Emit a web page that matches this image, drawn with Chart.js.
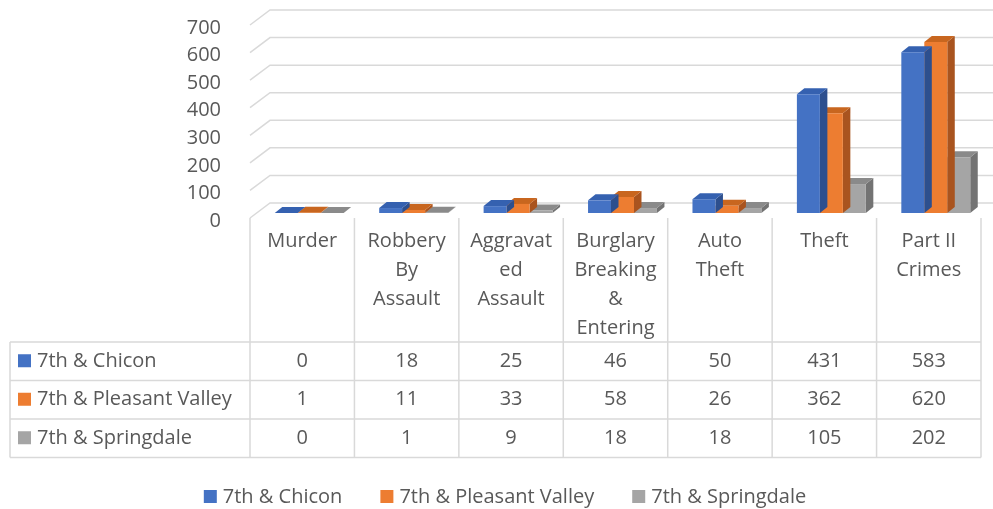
<!DOCTYPE html>
<html>
<head>
<meta charset="utf-8">
<script src="https://cdn.jsdelivr.net/npm/chart.js@4.4.0/dist/chart.umd.min.js"></script>
<style>
    html, body { margin: 0; padding: 0; background: #fff; }
</style>
</head>
<body>
<canvas id="myChart" width="993" height="509"></canvas>
<script>
// categories (already wrapped the way the table header shows them)
const categories = [
    ['Murder'],
    ['Robbery', 'By', 'Assault'],
    ['Aggravat', 'ed', 'Assault'],
    ['Burglary', 'Breaking', '&', 'Entering'],
    ['Auto', 'Theft'],
    ['Theft'],
    ['Part II', 'Crimes']
];
const seriesNames = ['7th & Chicon', '7th & Pleasant Valley', '7th & Springdale'];
const chiconValues = [0, 18, 25, 46, 50, 431, 583];
const pleasantValleyValues = [1, 11, 33, 58, 26, 362, 620];
const springdaleValues = [0, 1, 9, 18, 18, 105, 202];
const yTickValues = [0, 100, 200, 300, 400, 500, 600, 700];

const frontColors = ['#4472C4', '#ED7D31', '#A5A5A5'];
const sideColors = ['#2D4F8E', '#A9541F', '#737373'];
const topColors = ['#3561B0', '#C8661F', '#8A8A8A'];

const FONT = '"Open Sans", "Noto Sans", sans-serif';
const TEXT_COLOR = '#595959';
const LINE_COLOR = '#d9d9d9';

// 3d look: wall depth and bar depth
const wallDx = 20, wallDy = -15;
const barShiftX = 7, barShiftY = -5;
const barDx = 7.5, barDy = -6;

function drawWalls(chart) {
    const ctx = chart.ctx;
    const yScale = chart.scales.y;
    const area = chart.chartArea;
    ctx.save();
    ctx.strokeStyle = LINE_COLOR;
    ctx.lineWidth = 1.5;
    yTickValues.forEach(function (v) {
        const y = yScale.getPixelForValue(v);
        ctx.beginPath();
        ctx.moveTo(area.left, y);
        ctx.lineTo(area.left + wallDx, y + wallDy);
        ctx.lineTo(chart.width + 5, y + wallDy);
        ctx.stroke();
    });
    ctx.restore();
}

function drawBarFaces(chart, meta) {
    const ctx = chart.ctx;
    const k = meta.index;
    meta.data.forEach(function (bar) {
        const p = bar.getProps(['x', 'y', 'base', 'width'], true);
        const l = p.x - p.width / 2, r = p.x + p.width / 2;
        const t = Math.min(p.y, p.base), b = Math.max(p.y, p.base);
        // side face
        ctx.fillStyle = sideColors[k];
        ctx.beginPath();
        ctx.moveTo(r, t);
        ctx.lineTo(r + barDx, t + barDy);
        ctx.lineTo(r + barDx, b + barDy);
        ctx.lineTo(r, b);
        ctx.closePath();
        ctx.fill();
        // top face
        ctx.fillStyle = topColors[k];
        ctx.beginPath();
        ctx.moveTo(l, t);
        ctx.lineTo(l + barDx, t + barDy);
        ctx.lineTo(r + barDx, t + barDy);
        ctx.lineTo(r, t);
        ctx.closePath();
        ctx.fill();
    });
}

function drawTable(chart) {
    const ctx = chart.ctx;
    const xScale = chart.scales.x;
    const area = chart.chartArea;
    const n = chart.data.labels.length;
    const step = xScale.getPixelForValue(1) - xScale.getPixelForValue(0);
    const tableLeft = 10;
    const headTop = area.bottom;
    const headBottom = 342;
    const rowH = 38.5;
    const rows = chart.data.datasets.length;
    const right = xScale.getPixelForValue(n - 1) + step / 2;

    ctx.save();
    ctx.strokeStyle = LINE_COLOR;
    ctx.lineWidth = 1.5;
    // horizontal lines
    for (let r = 0; r <= rows; r++) {
        const y = headBottom + r * rowH;
        ctx.beginPath();
        ctx.moveTo(tableLeft, y);
        ctx.lineTo(right, y);
        ctx.stroke();
    }
    // left border of row header
    ctx.beginPath();
    ctx.moveTo(tableLeft, headBottom);
    ctx.lineTo(tableLeft, headBottom + rows * rowH);
    ctx.stroke();
    // column borders
    for (let i = 0; i <= n; i++) {
        const x = xScale.getPixelForValue(0) - step / 2 + i * step;
        ctx.beginPath();
        ctx.moveTo(x, headTop);
        ctx.lineTo(x, headBottom + rows * rowH);
        ctx.stroke();
    }

    ctx.font = '20px ' + FONT;
    ctx.fillStyle = TEXT_COLOR;
    ctx.textBaseline = 'middle';
    ctx.textAlign = 'center';
    // header labels
    chart.data.labels.forEach(function (lines, i) {
        const cx = xScale.getPixelForValue(i);
        lines.forEach(function (line, j) {
            ctx.fillText(line, cx, headTop + 23 + j * 29);
        });
    });
    // rows
    chart.data.datasets.forEach(function (ds, r) {
        const cy = headBottom + r * rowH + rowH / 2;
        ctx.fillStyle = ds.backgroundColor;
        ctx.fillRect(18, cy - 7, 13, 13);
        ctx.fillStyle = TEXT_COLOR;
        ctx.textAlign = 'left';
        ctx.fillText(ds.label, 37, cy);
        ctx.textAlign = 'center';
        ds.data.forEach(function (v, i) {
            ctx.fillText(String(v), xScale.getPixelForValue(i), cy);
        });
    });
    ctx.restore();
}

function drawLegend(chart) {
    const ctx = chart.ctx;
    const cy = 497;
    const box = 13, gap = 6, itemGap = 38;
    ctx.save();
    ctx.font = '20px ' + FONT;
    ctx.textBaseline = 'middle';
    ctx.textAlign = 'left';
    const widths = chart.data.datasets.map(ds => box + gap + ctx.measureText(ds.label).width);
    const total = widths.reduce((a, b) => a + b, 0) + itemGap * (widths.length - 1);
    let x = 505 - total / 2;
    chart.data.datasets.forEach(function (ds, k) {
        ctx.fillStyle = ds.backgroundColor;
        ctx.fillRect(x, cy - 7, box, box);
        ctx.fillStyle = TEXT_COLOR;
        ctx.fillText(ds.label, x + box + gap, cy);
        x += widths[k] + itemGap;
    });
    ctx.restore();
}

const excel3d = {
    id: 'excel3d',
    beforeDatasetsDraw(chart) {
        drawWalls(chart);
    },
    beforeDatasetDraw(chart, args) {
        chart.ctx.save();
        chart.ctx.translate(barShiftX, barShiftY);
        drawBarFaces(chart, args.meta);
    },
    afterDatasetDraw(chart) {
        chart.ctx.restore();
    },
    afterDraw(chart) {
        drawTable(chart);
        drawLegend(chart);
    }
};

const seriesValues = [chiconValues, pleasantValleyValues, springdaleValues];

new Chart(document.getElementById('myChart').getContext('2d'), {
    type: 'bar',
    data: {
        labels: categories,
        datasets: seriesNames.map(function (name, k) {
            return {
                label: name,
                data: seriesValues[k],
                backgroundColor: frontColors[k],
                borderWidth: 0,
                categoryPercentage: 0.66,
                barPercentage: 1.0,
                clip: false
            };
        })
    },
    options: {
        responsive: false,
        animation: false,
        devicePixelRatio: 1,
        layout: { padding: { top: 25, right: 12, bottom: 291, left: 0 } },
        plugins: {
            legend: { display: false },
            tooltip: { enabled: false }
        },
        scales: {
            x: {
                display: false
            },
            y: {
                min: 0,
                max: 700,
                afterFit: function (scale) {
                    scale.width = 250;
                    scale.paddingTop = 0;
                    scale.paddingBottom = 0;
                },
                afterBuildTicks: function (scale) {
                    scale.ticks = yTickValues.map(v => ({ value: v }));
                },
                grid: { display: false },
                border: { display: false },
                ticks: {
                    padding: 21,
                    labelOffset: 3,
                    color: TEXT_COLOR,
                    font: { family: FONT, size: 20 }
                }
            }
        }
    },
    plugins: [excel3d]
});
</script>
</body>
</html>
